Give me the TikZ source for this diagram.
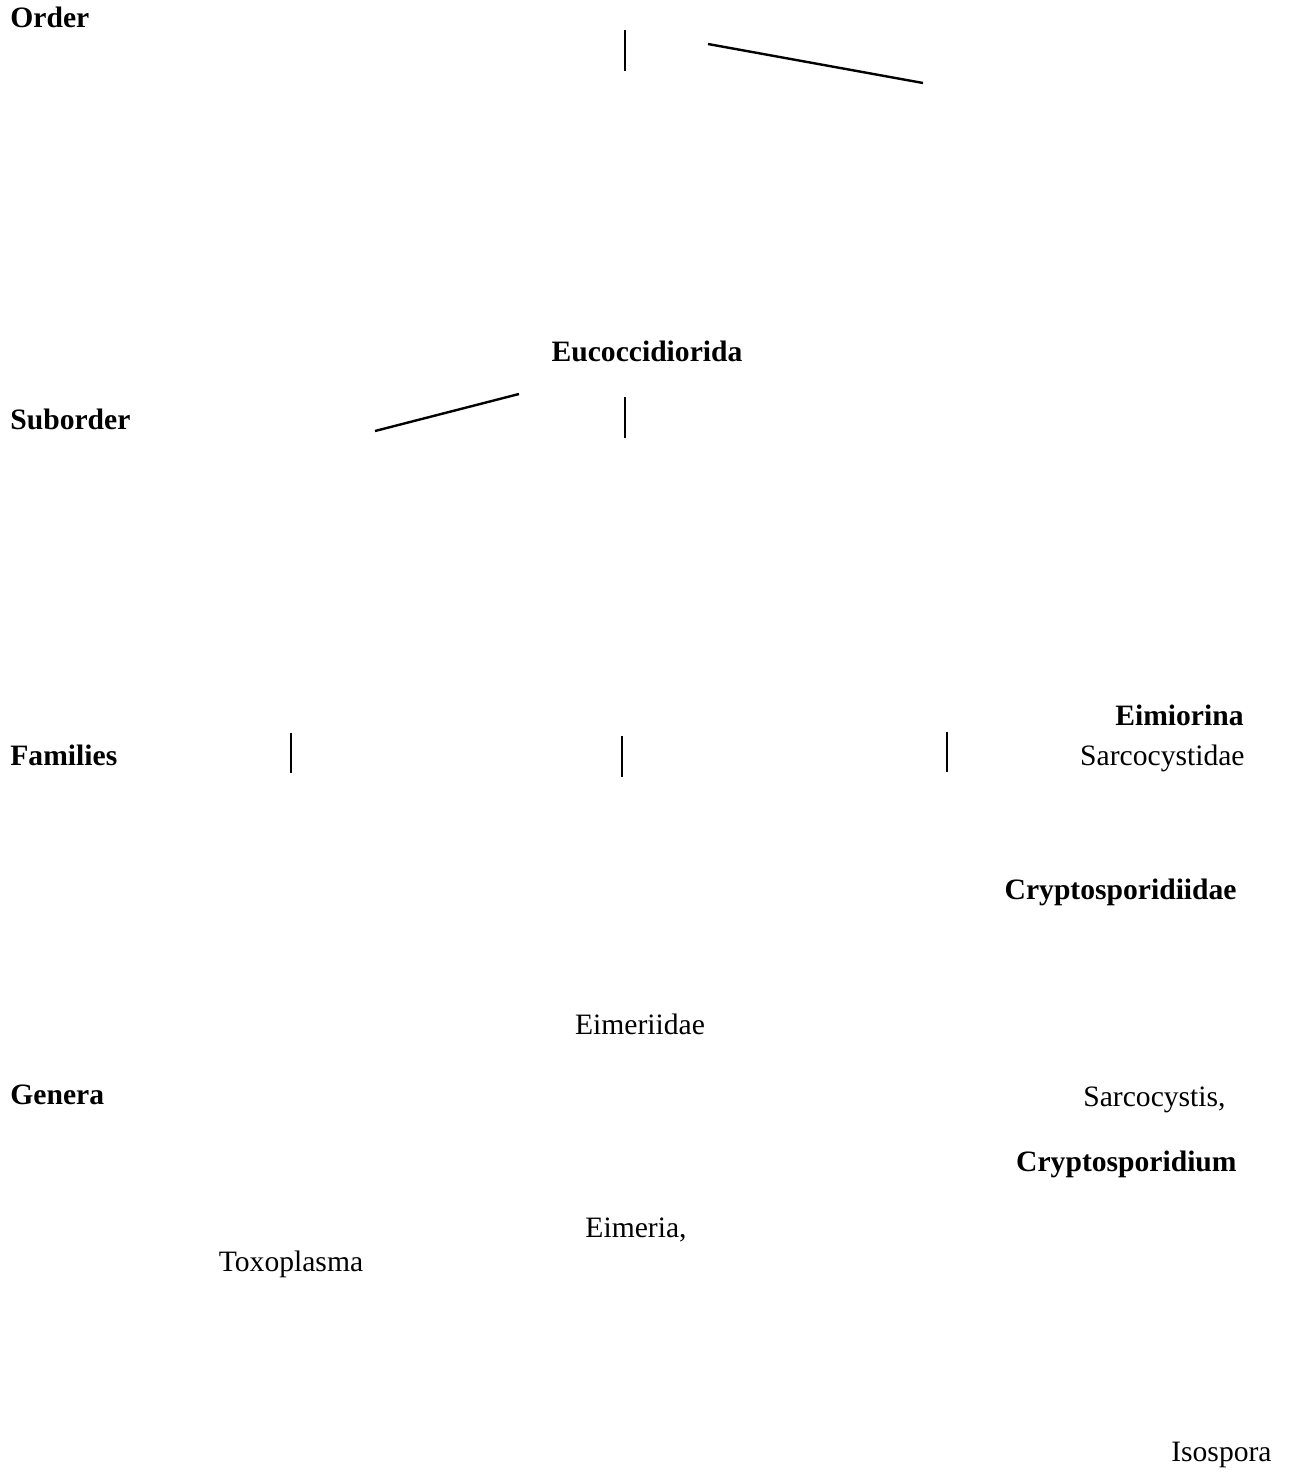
\documentclass[tikz,border=0pt]{standalone}
\usepackage{fontspec}
\setmainfont{Liberation Serif}
\begin{document}
\begin{tikzpicture}[x=0.5pt,y=-0.5pt,
  rank/.style={font=\fontsize{14.8}{17}\selectfont\bfseries, inner sep=0pt},
  taxon/.style={font=\fontsize{14.8}{17}\selectfont, inner sep=0pt},
  bar/.style={line width=1.2pt}]
\useasboundingbox (0,0) rectangle (1301,1484);

% rank labels on the left
\node[rank, anchor=base west] (order) at (10,27) {Order};
\node[rank, anchor=base west] (suborder) at (10,429) {Suborder};
\node[rank, anchor=base west] (families) at (10,765) {Families};
\node[rank, anchor=base west] (genera) at (10,1104) {Genera};

% taxa
\node[rank, anchor=base] (eucocc) at (647,361) {Eucoccidiorida};
\node[rank, anchor=base east] (eimiorina) at (1244,725) {Eimiorina};
\node[taxon, anchor=base east] (sarcofam) at (1245,765) {Sarcocystidae};
\node[rank, anchor=base east] (cryptofam) at (1237,899) {Cryptosporidiidae};
\node[taxon, anchor=base] (eimerfam) at (640,1034) {Eimeriidae};
\node[taxon, anchor=base east] (sarcogen) at (1226,1106) {Sarcocystis,};
\node[rank, anchor=base east] (cryptogen) at (1237,1171) {Cryptosporidium};
\node[taxon, anchor=base] (eimergen) at (636,1237) {Eimeria,};
\node[taxon, anchor=base] (toxogen) at (291,1271) {Toxoplasma};
\node[taxon, anchor=base east] (isogen) at (1272,1461) {Isospora};

% stray tree strokes
\coordinate (o1) at (625,30);  \coordinate (o2) at (625,71);
\coordinate (o3) at (708,44);  \coordinate (o4) at (923,83);
\draw[bar] (o1) -- (o2);
\draw[bar] (o3) -- (o4);

\coordinate (s1) at (375,431); \coordinate (s2) at (519,394);
\coordinate (s3) at (625,397); \coordinate (s4) at (625,438);
\draw[bar] (s1) -- (s2);
\draw[bar] (s3) -- (s4);

\coordinate (f1) at (291,733); \coordinate (f2) at (291,773);
\coordinate (f3) at (622,736); \coordinate (f4) at (622,777);
\coordinate (f5) at (947,732); \coordinate (f6) at (947,772);
\draw[bar] (f1) -- (f2);
\draw[bar] (f3) -- (f4);
\draw[bar] (f5) -- (f6);

\end{tikzpicture}
\end{document}
